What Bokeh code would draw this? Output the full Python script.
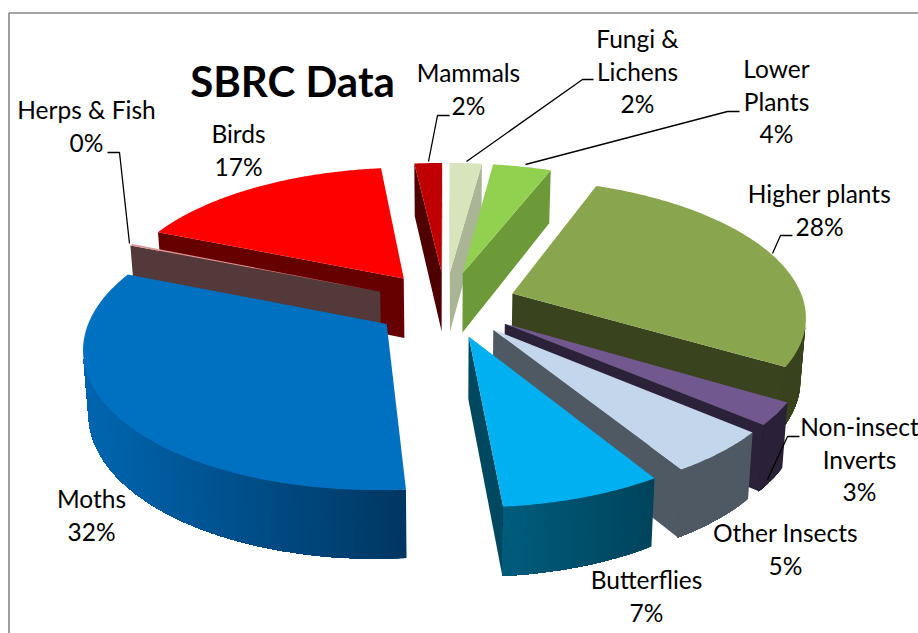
import math
from bokeh.plotting import figure
from bokeh.models import ColumnDataSource
from bokeh.core.properties import value
from bokeh.embed import file_html
from bokeh.resources import INLINE

# ---- data -------------------------------------------------------------
categories = ["Mammals", "Fungi & Lichens", "Lower Plants", "Higher plants", "Non-insect Inverts",
              "Other Insects", "Butterflies", "Moths", "Herps & Fish", "Birds"]
shares = [1.8, 2.1, 3.8, 27.7, 2.6, 5, 7.4, 32.4, 0.2, 16.9]
label_lines = [["Mammals"], ["Fungi &", "Lichens"], ["Lower", "Plants"], ["Higher plants"],
               ["Non-insect", "Inverts"], ["Other Insects"], ["Butterflies"], ["Moths"],
               ["Herps & Fish"], ["Birds"]]
title_text = "SBRC Data"

# ---- styles -----------------------------------------------------------
top_colors = ["#C00000", "#D7E4BC", "#92D050", "#89A54E", "#71588F",
              "#C3D6EC", "#00B0F0", "#0070C0", "#D99694", "#FF0000"]
cut_colors = ["#4F0000", "#A9B595", "#6C9A38", "#39431E", "#2B2138",
              "#4F5963", "#00485F", "#003A66", "#54393A", "#660000"]
wall_left = ["#4F0000", "#A9B595", "#6C9A38", "#39431E", "#2B2138",
             "#4F5963", "#005C7C", "#0066B0", "#54393A", "#660000"]
wall_right = ["#4F0000", "#A9B595", "#6C9A38", "#39431E", "#2B2138",
              "#4F5963", "#00445C", "#003762", "#54393A", "#660000"]
label_x = [468, 637, 776, 819, 859, 785, 646, 91, 86, 238]
label_y0 = [72, 38, 68, 193, 426, 532, 579, 498, 109, 133]
line_gap = 32.7
FONT = "Lato"

# ---- projection of the exploded pie -------------------------------------
CX, CY, P, K, A = 445.0, 303.5, 292.0, 0.4606, 0.15
EXPLODE, START, THICK = 0.245, -6.48, 61.0


def project(x, y, bottom=False):
    s = 1.0 / (1.0 + A * y)
    sx = CX + P * x * s
    sy = CY - P * K * y * s
    if bottom:
        sx = CX + (sx - CX) * 0.985
        sy += THICK * (1 - 0.11 * y)
    return sx, sy


def hex2rgb(h):
    return tuple(int(h[i:i + 2], 16) for i in (1, 3, 5))


def mix(a, b, t):
    ca, cb = hex2rgb(a), hex2rgb(b)
    return "#%02X%02X%02X" % tuple(round(ca[i] + (cb[i] - ca[i]) * t) for i in range(3))


def area(pts):
    return sum(pts[i][0] * pts[(i + 1) % len(pts)][1] - pts[(i + 1) % len(pts)][0] * pts[i][1]
               for i in range(len(pts)))


total = sum(shares)
slices = []
angle = START
for i, v in enumerate(shares):
    sweep = 360.0 * v / total
    a0, a1 = angle, angle + sweep
    angle = a1
    mid = math.radians((a0 + a1) / 2)
    ox, oy = EXPLODE * math.sin(mid), EXPLODE * math.cos(mid)
    slices.append((oy, i, a0, a1, ox, oy))
slices.sort(key=lambda t: -t[0])

xs, ys, fills = [], [], []


def add(pts, color):
    xs.append([q[0] for q in pts])
    ys.append([q[1] for q in pts])
    fills.append(color)


for _, i, a0, a1, ox, oy in slices:
    n = max(2, int(a1 - a0) * 2)
    arc = [(ox + math.sin(math.radians(a0 + (a1 - a0) * j / n)),
            oy + math.cos(math.radians(a0 + (a1 - a0) * j / n))) for j in range(n + 1)]
    apex = (ox, oy)
    # radial cut faces
    for edge, sign in ((arc[0], -1), (arc[-1], 1)):
        poly = [project(*apex), project(*edge), project(*edge, True), project(*apex, True)]
        if area(poly) * sign > 0:
            add(poly, cut_colors[i])
    # outer curved wall: overlapping bands, painted in travel order, so no seams show
    vis = [j for j in range(n)
           if area([project(*arc[j]), project(*arc[j + 1]), project(*arc[j + 1], True), project(*arc[j], True)]) < 0]
    if vis:
        lo = min(project(*arc[j + 1])[0] for j in vis)
        hi = max(project(*arc[j + 1])[0] for j in vis)
        for j in vis:
            tail = arc[j:vis[-1] + 2]
            poly = [project(*q) for q in tail] + [project(*q, True) for q in reversed(tail)]
            t = (project(*arc[j + 1])[0] - lo) / (hi - lo) if hi > lo else 0
            add(poly, mix(wall_left[i], wall_right[i], t))
    # top face
    add([project(*apex)] + [project(*q) for q in arc], top_colors[i])

p = figure(width=918, height=633, x_range=(0, 918), y_range=(633, 0), toolbar_location=None,
           output_backend="svg", min_border=0)
p.axis.visible = False
p.grid.visible = False
p.outline_line_color = None
p.background_fill_color = "white"

# chart frame
p.line([8.5, 8.5, 918], [633, 12.5, 12.5], line_color="#868686", line_width=1.6)

src = ColumnDataSource(dict(xs=xs, ys=ys, fill=fills))
p.patches("xs", "ys", source=src, fill_color="fill", line_color=None)

# leader lines
leaders_x = [[449, 437, 428], [593, 582, 466], [739, 727, 525], [792, 780, 772], [799, 787, 767], [107, 119, 129]]
leaders_y = [[115, 115, 161], [79, 79, 161], [111, 111, 164], [235, 235, 253], [436, 436, 479], [152, 152, 243]]
p.multi_line(leaders_x, leaders_y, line_color="black", line_width=1.3)

# labels
tx, ty, tt = [], [], []
for i, lines in enumerate(label_lines):
    rows = lines + ["%d%%" % round(shares[i])]
    for j, row in enumerate(rows):
        tx.append(label_x[i]); ty.append(label_y0[i] + j * line_gap); tt.append(row)
p.text(tx, ty, text=tt, text_align="center", text_baseline="middle", text_color="black",
       text_font=value(FONT), text_font_size="24.5px")
p.text([292], [80], text=[title_text], text_align="center", text_baseline="middle", text_color="black",
       text_font=value(FONT), text_font_style="bold", text_font_size="42px")

open("out.html", "w").write(file_html(p, INLINE))
